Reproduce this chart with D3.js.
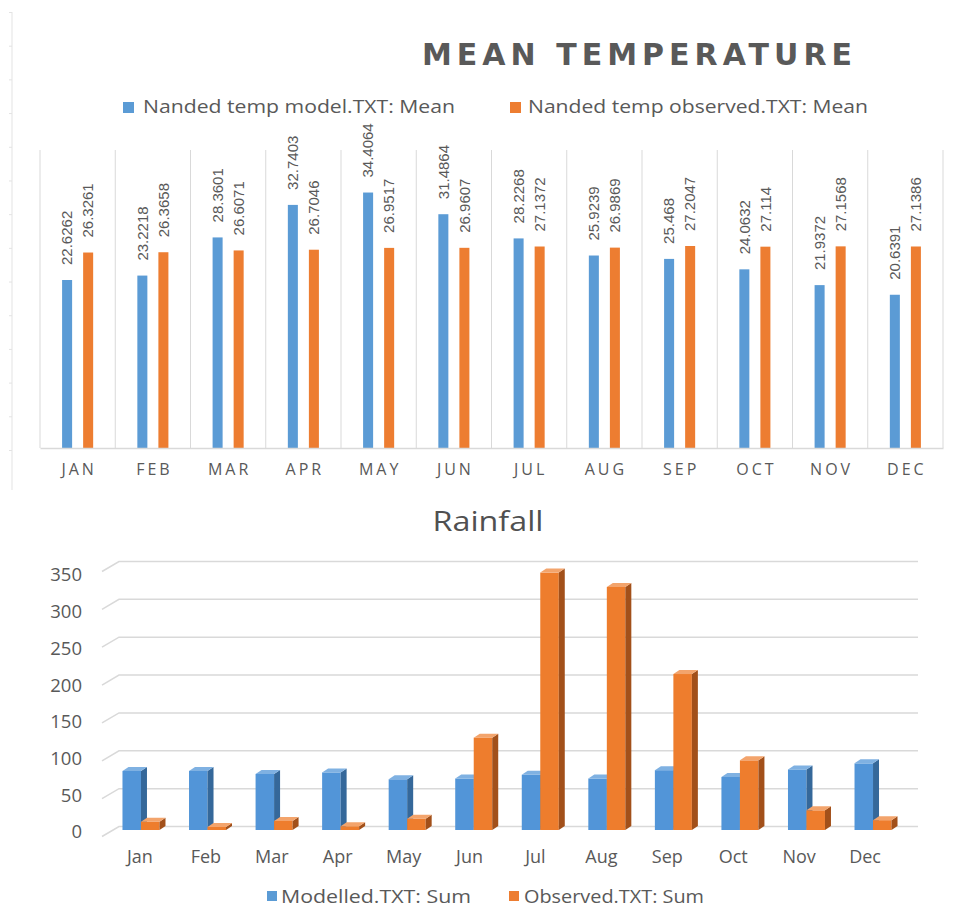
<!DOCTYPE html>
<html><head><meta charset="utf-8">
<script src="https://cdn.jsdelivr.net/npm/d3@7"></script>
<style>
body{margin:0;background:#fff}
svg{display:block;font-family:"Open Sans","DejaVu Sans",sans-serif}
</style>
</head><body>
<svg id="c" width="963" height="912"></svg>
<script>
// ---------- data ----------
const monthsUpper = ["JAN","FEB","MAR","APR","MAY","JUN","JUL","AUG","SEP","OCT","NOV","DEC"];
const monthsShort = ["Jan","Feb","Mar","Apr","May","Jun","Jul","Aug","Sep","Oct","Nov","Dec"];
const tempModel = [22.6262,23.2218,28.3601,32.7403,34.4064,31.4864,28.2268,25.9239,25.468,24.0632,21.9372,20.6391];
const tempObserved = [26.3261,26.3658,26.6071,26.7046,26.9517,26.9607,27.1372,26.9869,27.2047,27.114,27.1568,27.1386];
const rainModelled = [78,78,74,76,67,68,73,68,79,70,80,88];
const rainObserved = [11,4,12,5,15,122,340,321,206,92,26,13];
const rainTicks = [0,50,100,150,200,250,300,350];
const tempTitle = "MEAN TEMPERATURE";
const tempSeries = ["Nanded temp model.TXT: Mean","Nanded temp observed.TXT: Mean"];
const rainTitle = "Rainfall";
const rainSeries = ["Modelled.TXT: Sum","Observed.TXT: Sum"];

const BLUE="#5b9bd5", ORANGE="#ed7d31", GRAY="#595959", GRID="#d9d9d9";
const OPEN="'Open Sans',sans-serif", DEJA="'DejaVu Sans',sans-serif", LIB="'Liberation Sans',Arial,sans-serif";
const svg = d3.select("#c");

// ---------- faint left axis artifact ----------
const yArt = d3.scaleLinear().domain([0,13]).range([450,12]);
svg.append("line").attr("x1",12).attr("x2",12).attr("y1",12).attr("y2",490).attr("stroke","#e3e3e3");
const artAx = svg.append("g").attr("transform","translate(12,0)")
  .call(d3.axisLeft(yArt).ticks(13).tickFormat("").tickSize(3).tickSizeOuter(0));
artAx.select(".domain").remove();
artAx.selectAll("line").attr("stroke","#e3e3e3");

// ---------- TOP CHART ----------
const topG = svg.append("g");
topG.append("text").attr("x",422).attr("y",65)
  .style("font-family",DEJA).style("font-size","30px").style("font-weight","700")
  .attr("fill",GRAY).attr("textLength",430).attr("lengthAdjust","spacing").text(tempTitle);

// legend
const tLeg = [{x:123,c:BLUE,tx:143,w:312},{x:510,c:ORANGE,tx:528,w:340}];
tLeg.forEach((d,i)=>{
  topG.append("rect").attr("x",d.x).attr("y",102).attr("width",11).attr("height",11).attr("fill",d.c);
  topG.append("text").attr("x",d.tx).attr("y",113).style("font-family",OPEN).style("font-size","17.5px").attr("fill",GRAY)
    .attr("textLength",d.w).attr("lengthAdjust","spacingAndGlyphs").text(tempSeries[i]);
});

const x0 = d3.scaleBand().domain(monthsUpper).range([40,943]).padding(0);
const x1 = d3.scaleBand().domain([0,1]).range([0,x0.bandwidth()]).paddingInner(0.524).paddingOuter(1.05);
const yT = d3.scaleLinear().domain([0,40]).range([448,151]);

// vertical gridlines
const gx = monthsUpper.map(m=>x0(m)).concat([x0.range()[1]]);
topG.selectAll("line.vg").data(gx).join("line").attr("class","vg")
  .attr("x1",d=>d).attr("x2",d=>d).attr("y1",150).attr("y2",448).attr("stroke",GRID);

const tData = monthsUpper.map((m,i)=>[{m,s:0,v:tempModel[i]},{m,s:1,v:tempObserved[i]}]).flat();
topG.selectAll("rect.b").data(tData).join("rect").attr("class","b")
  .attr("x",d=>x0(d.m)+x1(d.s)).attr("width",x1.bandwidth())
  .attr("y",d=>yT(d.v)).attr("height",d=>yT(0)-yT(d.v))
  .attr("fill",d=>d.s?ORANGE:BLUE);

topG.selectAll("text.lbl").data(tData).join("text").attr("class","lbl")
  .attr("transform",d=>`translate(${x0(d.m)+x1(d.s)+x1.bandwidth()/2},${yT(d.v)-15}) rotate(-90)`)
  .attr("dy","0.35em").style("font-family",LIB).style("font-size","15px")
  .attr("fill",GRAY).text(d=>String(d.v));

// baseline axis
const xAxT = topG.append("g").attr("transform","translate(0,448)")
  .call(d3.axisBottom(x0).tickSize(0).tickPadding(16));
xAxT.select(".domain").attr("stroke",GRID).attr("stroke-width",1.5);
xAxT.selectAll("text").style("font-family",OPEN).style("font-size","16px").attr("fill",GRAY)
  .attr("letter-spacing",3).attr("dx",1.5);

// ---------- BOTTOM CHART ----------
const bot = svg.append("g");
bot.append("text").attr("x",488).attr("y",531).attr("text-anchor","middle")
  .style("font-family",OPEN).style("font-size","27px")
  .attr("fill","#505050").attr("textLength",111).attr("lengthAdjust","spacingAndGlyphs").text(rainTitle);

const yF = d3.scaleLinear().domain([0,350]).range([830,565]);
const yL = d3.scaleLinear().domain([0,350]).range([832,575]);
const xB = d3.scaleBand().domain(monthsShort).range([107.7,906.3]).padding(0);
const xL = d3.scaleBand().domain(monthsShort).range([107,898]).padding(0);
const x2 = d3.scaleBand().domain([0,1]).range([xB.bandwidth()/2-18.5, xB.bandwidth()/2+18.5]).padding(0);
const DX=6, DY=-4;

// gridlines (back wall + floor edge)
bot.selectAll("path.gl").data(rainTicks).join("path").attr("class","gl")
  .attr("d",t=>{const yb=yF(t)-3.5; return `M102,${yb+10}L119,${yb}L918,${yb}`;})
  .attr("fill","none").attr("stroke",GRID).attr("stroke-width",1.5);

// y tick labels
const yAx = bot.append("g").attr("transform","translate(82,0)")
  .call(d3.axisLeft(yL).tickValues(rainTicks).tickSize(0).tickPadding(0));
yAx.select(".domain").remove();
yAx.selectAll("text").style("font-family",OPEN).style("font-size","18.5px").attr("fill",GRAY);

// 3D bars
const cols = [{f:"#5295d8",s:"#35689a",t:"#7fb1e2"},{f:"#ee7d2d",s:"#a2501a",t:"#f3a46c"}];
const rData = monthsShort.map((m,i)=>[{m,s:0,v:rainModelled[i]},{m,s:1,v:rainObserved[i]}]).flat();
const bars = bot.selectAll("g.bar").data(rData).join("g").attr("class","bar");
bars.each(function(d){
  const g = d3.select(this);
  const x = xB(d.m)+x2(d.s), w = x2.bandwidth(), y = yF(d.v), y0 = yF(0);
  const c = cols[d.s];
  g.append("rect").attr("x",x).attr("y",y).attr("width",w).attr("height",y0-y).attr("fill",c.f);
  g.append("path").attr("d",`M${x+w},${y}L${x+w+DX},${y+DY}L${x+w+DX},${y0+DY}L${x+w},${y0}Z`).attr("fill",c.s);
  g.append("path").attr("d",`M${x},${y}L${x+DX},${y+DY}L${x+w+DX},${y+DY}L${x+w},${y}Z`).attr("fill",c.t);
});

// x labels
bot.selectAll("text.xl").data(monthsShort).join("text").attr("class","xl")
  .attr("x",d=>xL(d)+xL.bandwidth()/2).attr("y",857).attr("dy","0.35em").attr("text-anchor","middle")
  .style("font-family",OPEN).style("font-size","18px").attr("fill",GRAY).text(d=>d);

// legend
const bLeg = [{x:267,c:BLUE,tx:281,w:190},{x:509,c:ORANGE,tx:524,w:180}];
bLeg.forEach((d,i)=>{
  bot.append("rect").attr("x",d.x).attr("y",891).attr("width",10).attr("height",10).attr("fill",d.c);
  bot.append("text").attr("x",d.tx).attr("y",903).style("font-family",OPEN).style("font-size","18px").attr("fill",GRAY)
    .attr("textLength",d.w).attr("lengthAdjust","spacingAndGlyphs").text(rainSeries[i]);
});
</script>
</body></html>
